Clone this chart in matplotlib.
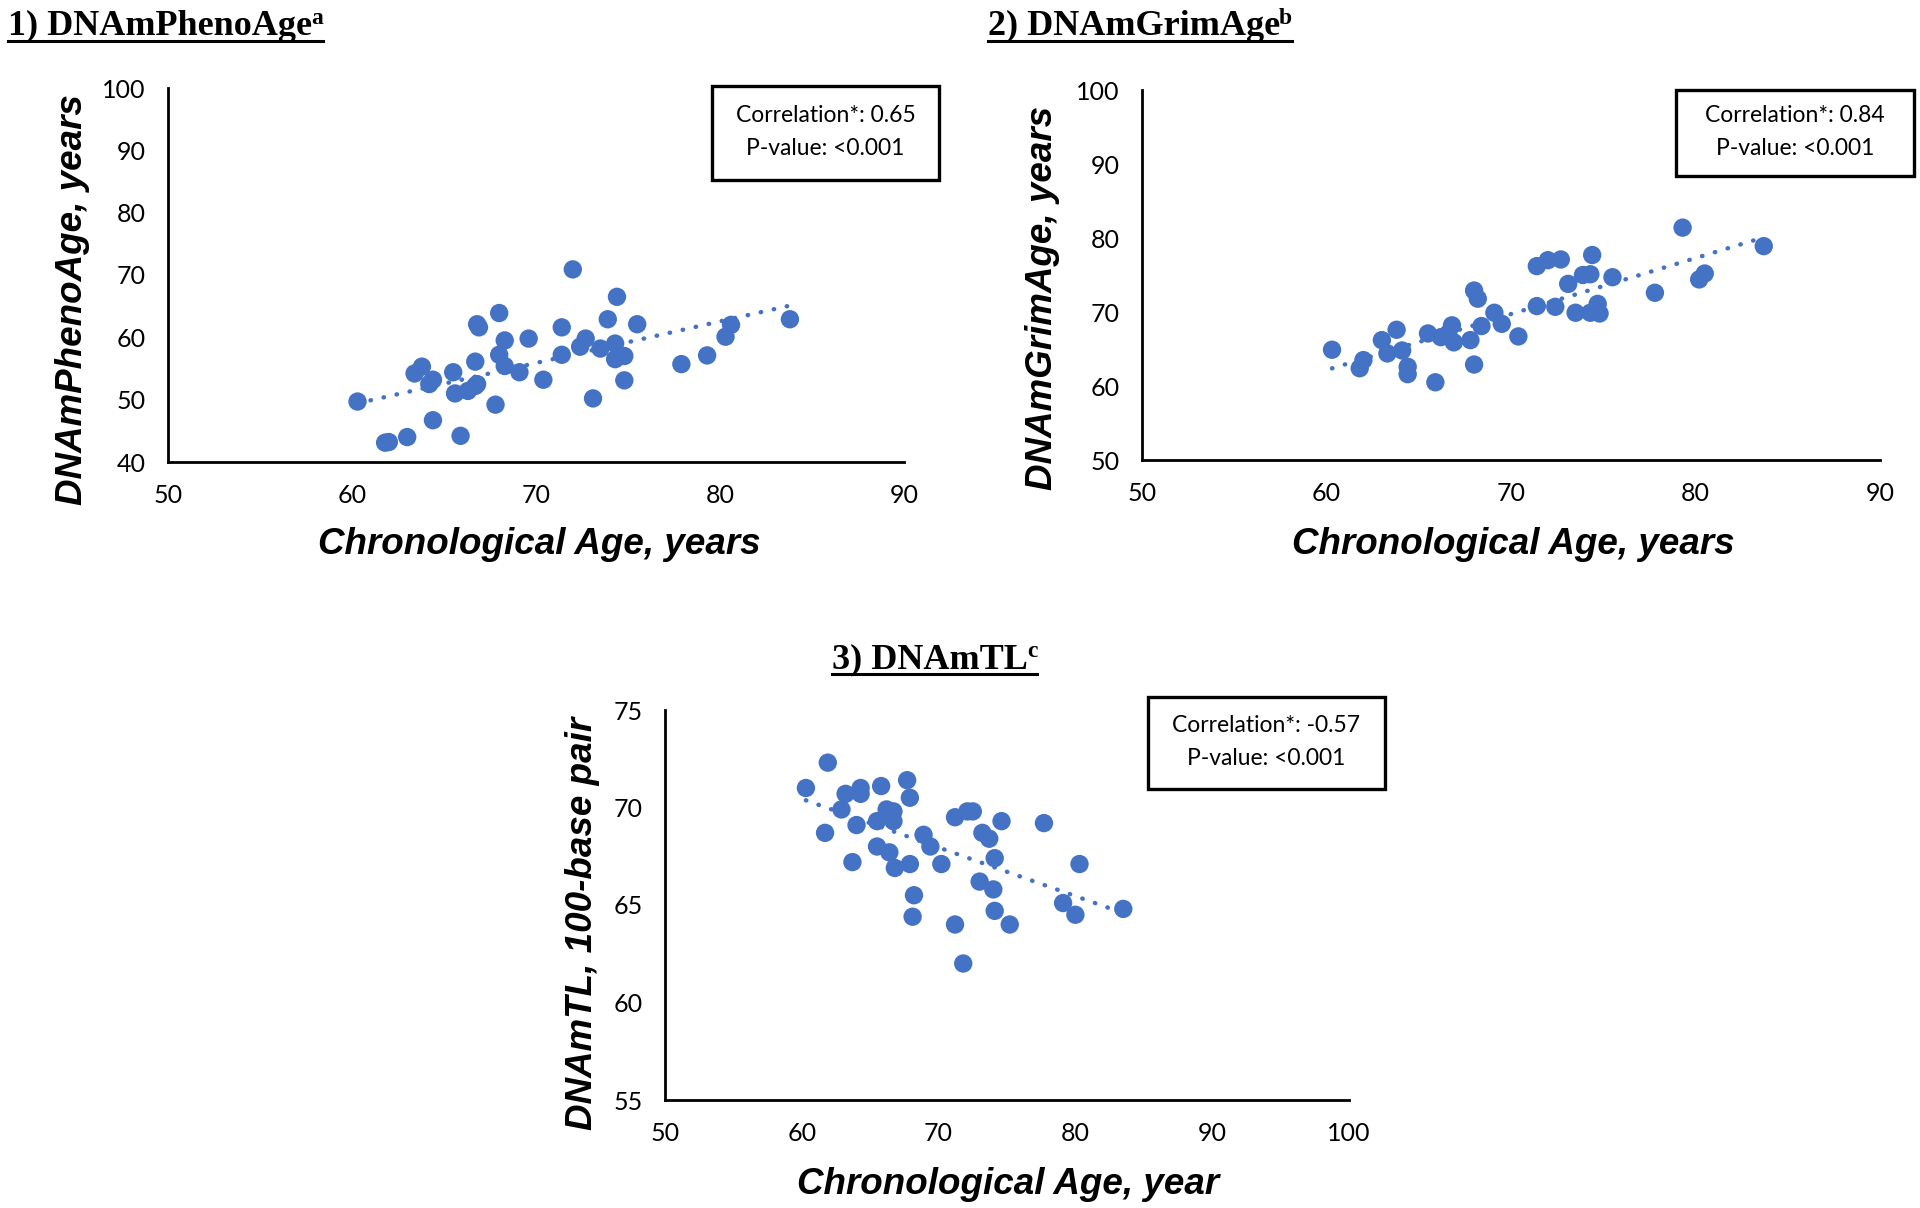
import numpy as np
import matplotlib
matplotlib.use('Agg')
import matplotlib.pyplot as plt
from matplotlib.patches import Rectangle
from matplotlib.lines import Line2D

W, H = 1920, 1208
BLUE = '#4472C4'

# 1) DNAmPhenoAge vs chronological age
pheno_x = [60.3, 61.8, 62.0, 63.0, 63.4, 63.8, 64.2, 64.4, 64.4, 65.5, 65.6, 65.9,
           66.3, 66.7, 66.8, 66.7, 66.8, 66.9, 67.8, 68.0, 68.0, 68.3, 68.3, 69.1,
           69.6, 70.4, 71.4, 71.4, 72.0, 72.4, 72.7, 73.1, 73.5, 73.9, 74.3, 74.3,
           74.4, 74.8, 74.8, 75.5, 77.9, 79.3, 80.3, 80.6, 83.8]
pheno_y = [49.7, 43.1, 43.2, 44.0, 54.2, 55.3, 52.5, 53.2, 46.7, 54.4, 51.0, 44.2,
           51.4, 52.2, 52.5, 56.1, 62.1, 61.6, 49.2, 63.9, 57.2, 59.5, 55.4, 54.4,
           59.8, 53.2, 61.6, 57.2, 70.9, 58.5, 59.8, 50.2, 58.2, 62.9, 59.0, 56.5,
           66.5, 57.0, 53.1, 62.1, 55.7, 57.1, 60.1, 62.0, 62.9]

# 2) DNAmGrimAge vs chronological age
grim_x = [60.3, 61.8, 62.0, 63.0, 63.3, 63.8, 64.1, 64.4, 64.4, 65.5, 65.9, 66.2,
          66.6, 66.8, 66.9, 67.8, 68.0, 68.2, 68.0, 68.4, 69.1, 69.5, 70.4, 71.4,
          72.0, 72.7, 71.4, 72.4, 73.1, 73.5, 73.9, 74.3, 74.4, 74.3, 74.7, 74.8,
          75.5, 77.8, 79.3, 80.2, 80.5, 83.7]
grim_y = [64.9, 62.4, 63.5, 66.2, 64.4, 67.6, 64.8, 62.6, 61.6, 67.1, 60.5, 66.6,
          67.1, 68.2, 65.9, 66.2, 72.9, 71.8, 62.9, 68.1, 69.9, 68.4, 66.7, 76.2,
          77.0, 77.1, 70.8, 70.7, 73.8, 69.9, 75.0, 75.1, 77.7, 69.9, 71.1, 69.8,
          74.7, 72.6, 81.4, 74.4, 75.2, 78.9]

# 3) DNAmTL vs chronological age
tl_x = [60.3, 61.9, 61.7, 62.9, 63.2, 64.3, 64.3, 64.0, 63.7, 65.8, 65.5, 65.5,
        66.2, 66.7, 66.7, 66.4, 66.8, 67.7, 67.9, 67.9, 68.2, 68.1, 68.9, 69.4,
        70.2, 71.2, 72.1, 72.5, 71.2, 71.8, 73.2, 73.7, 74.6, 74.1, 73.0, 74.0,
        74.1, 75.2, 77.7, 79.1, 80.0, 80.3, 83.5]
tl_y = [71.0, 72.3, 68.7, 69.9, 70.7, 71.0, 70.7, 69.1, 67.2, 71.1, 69.3, 68.0,
        69.9, 69.8, 69.3, 67.7, 66.9, 71.4, 70.5, 67.1, 65.5, 64.4, 68.6, 68.0,
        67.1, 69.5, 69.8, 69.8, 64.0, 62.0, 68.7, 68.4, 69.3, 67.4, 66.2, 65.8,
        64.7, 64.0, 69.2, 65.1, 64.5, 67.1, 64.8]

panels = [
    dict(x=pheno_x, y=pheno_y, box=(168, 88, 904, 462), xlim=(50, 90), xticks=[50, 60, 70, 80, 90],
         ylim=(40, 100), yticks=[40, 50, 60, 70, 80, 90, 100],
         ylabel='DNAmPhenoAge, years', xlabel='Chronological Age, years',
         ylab_pos=(73, 300), xlab_pos=(539, 544),
         stat='Correlation*: 0.65\nP-value: <0.001', stat_box=(712, 86, 939, 180),
         title='1) DNAmPhenoAge', sup='a', title_pos=(8, 35)),
    dict(x=grim_x, y=grim_y, box=(1142, 90, 1880, 460), xlim=(50, 90), xticks=[50, 60, 70, 80, 90],
         ylim=(50, 100), yticks=[50, 60, 70, 80, 90, 100],
         ylabel='DNAmGrimAge, years', xlabel='Chronological Age, years',
         ylab_pos=(1043, 298), xlab_pos=(1513, 544),
         stat='Correlation*: 0.84\nP-value: <0.001', stat_box=(1676, 90, 1914, 176),
         title='2) DNAmGrimAge', sup='b', title_pos=(988, 35)),
    dict(x=tl_x, y=tl_y, box=(665, 710, 1349, 1100), xlim=(50, 100), xticks=[50, 60, 70, 80, 90, 100],
         ylim=(55, 75), yticks=[55, 60, 65, 70, 75],
         ylabel='DNAmTL, 100-base pair', xlabel='Chronological Age, year',
         ylab_pos=(582, 923), xlab_pos=(1008, 1184),
         stat='Correlation*: -0.57\nP-value: <0.001', stat_box=(1148, 697, 1385, 789),
         title='3) DNAmTL', sup='c', title_pos=(832, 668)),
]


def fx(x):
    return x / W


def fy(y):
    return 1 - y / H


fig = plt.figure(figsize=(W / 100, H / 100), dpi=100)
renderer = fig.canvas.get_renderer()

for p in panels:
    l, t, r, b = p['box']
    ax = fig.add_axes([fx(l), fy(b), (r - l) / W, (b - t) / H])
    ax.scatter(p['x'], p['y'], s=175, color=BLUE, edgecolors='none', zorder=3, clip_on=False)
    # linear trend line over the data range
    xs = np.array(p['x'])
    k, c = np.polyfit(xs, p['y'], 1)
    tx = np.array([xs.min(), xs.max()])
    ax.plot(tx, k * tx + c, color=BLUE, lw=3.2, linestyle=(0, (0.1, 2.9)),
            dash_capstyle='round', zorder=4, clip_on=False)
    ax.set_xlim(*p['xlim'])
    ax.set_ylim(*p['ylim'])
    ax.set_xticks(p['xticks'])
    ax.set_yticks(p['yticks'])
    for s in ['top', 'right']:
        ax.spines[s].set_visible(False)
    for s in ['left', 'bottom']:
        ax.spines[s].set_linewidth(2.0)
    ax.tick_params(axis='x', length=0, pad=16, labelsize=18)
    ax.tick_params(axis='y', length=0, pad=16, labelsize=18)
    for lab in ax.get_xticklabels() + ax.get_yticklabels():
        lab.set_fontfamily('Lato')

    fig.text(fx(p['xlab_pos'][0]), fy(p['xlab_pos'][1]), p['xlabel'], ha='center', va='center',
             fontsize=26.5, fontweight='bold', fontstyle='italic', family='Liberation Sans')
    fig.text(fx(p['ylab_pos'][0]), fy(p['ylab_pos'][1]), p['ylabel'], ha='center', va='center',
             rotation=90, fontsize=26.5, fontweight='bold', fontstyle='italic', family='Liberation Sans')

    # stats box
    bl, bt, br, bb = p['stat_box']
    fig.patches.append(Rectangle((fx(bl), fy(bb)), (br - bl) / W, (bb - bt) / H,
                                 transform=fig.transFigure, fill=False, ec='black', lw=2.4))
    fig.text(fx((bl + br) / 2), fy((bt + bb) / 2 - 1), p['stat'], ha='center', va='center',
             fontsize=16.5, family='Lato', linespacing=1.75)

    # underlined title with superscript
    tx0, ty0 = p['title_pos']
    tt = fig.text(fx(tx0), fy(ty0), p['title'], ha='left', va='baseline',
                  fontsize=26, fontweight='bold', family='Liberation Serif')
    bb_t = tt.get_window_extent(renderer)
    st = fig.text((bb_t.x1 - 1) / W, fy(ty0 - 11), p['sup'], ha='left', va='baseline',
                  fontsize=17, fontweight='bold', family='Liberation Serif')
    bb_s = st.get_window_extent(renderer)
    fig.lines.append(Line2D([fx(tx0), bb_s.x1 / W], [fy(ty0 + 6), fy(ty0 + 6)],
                            transform=fig.transFigure, color='black', lw=2.2))

fig.savefig('out.png', dpi=100)
